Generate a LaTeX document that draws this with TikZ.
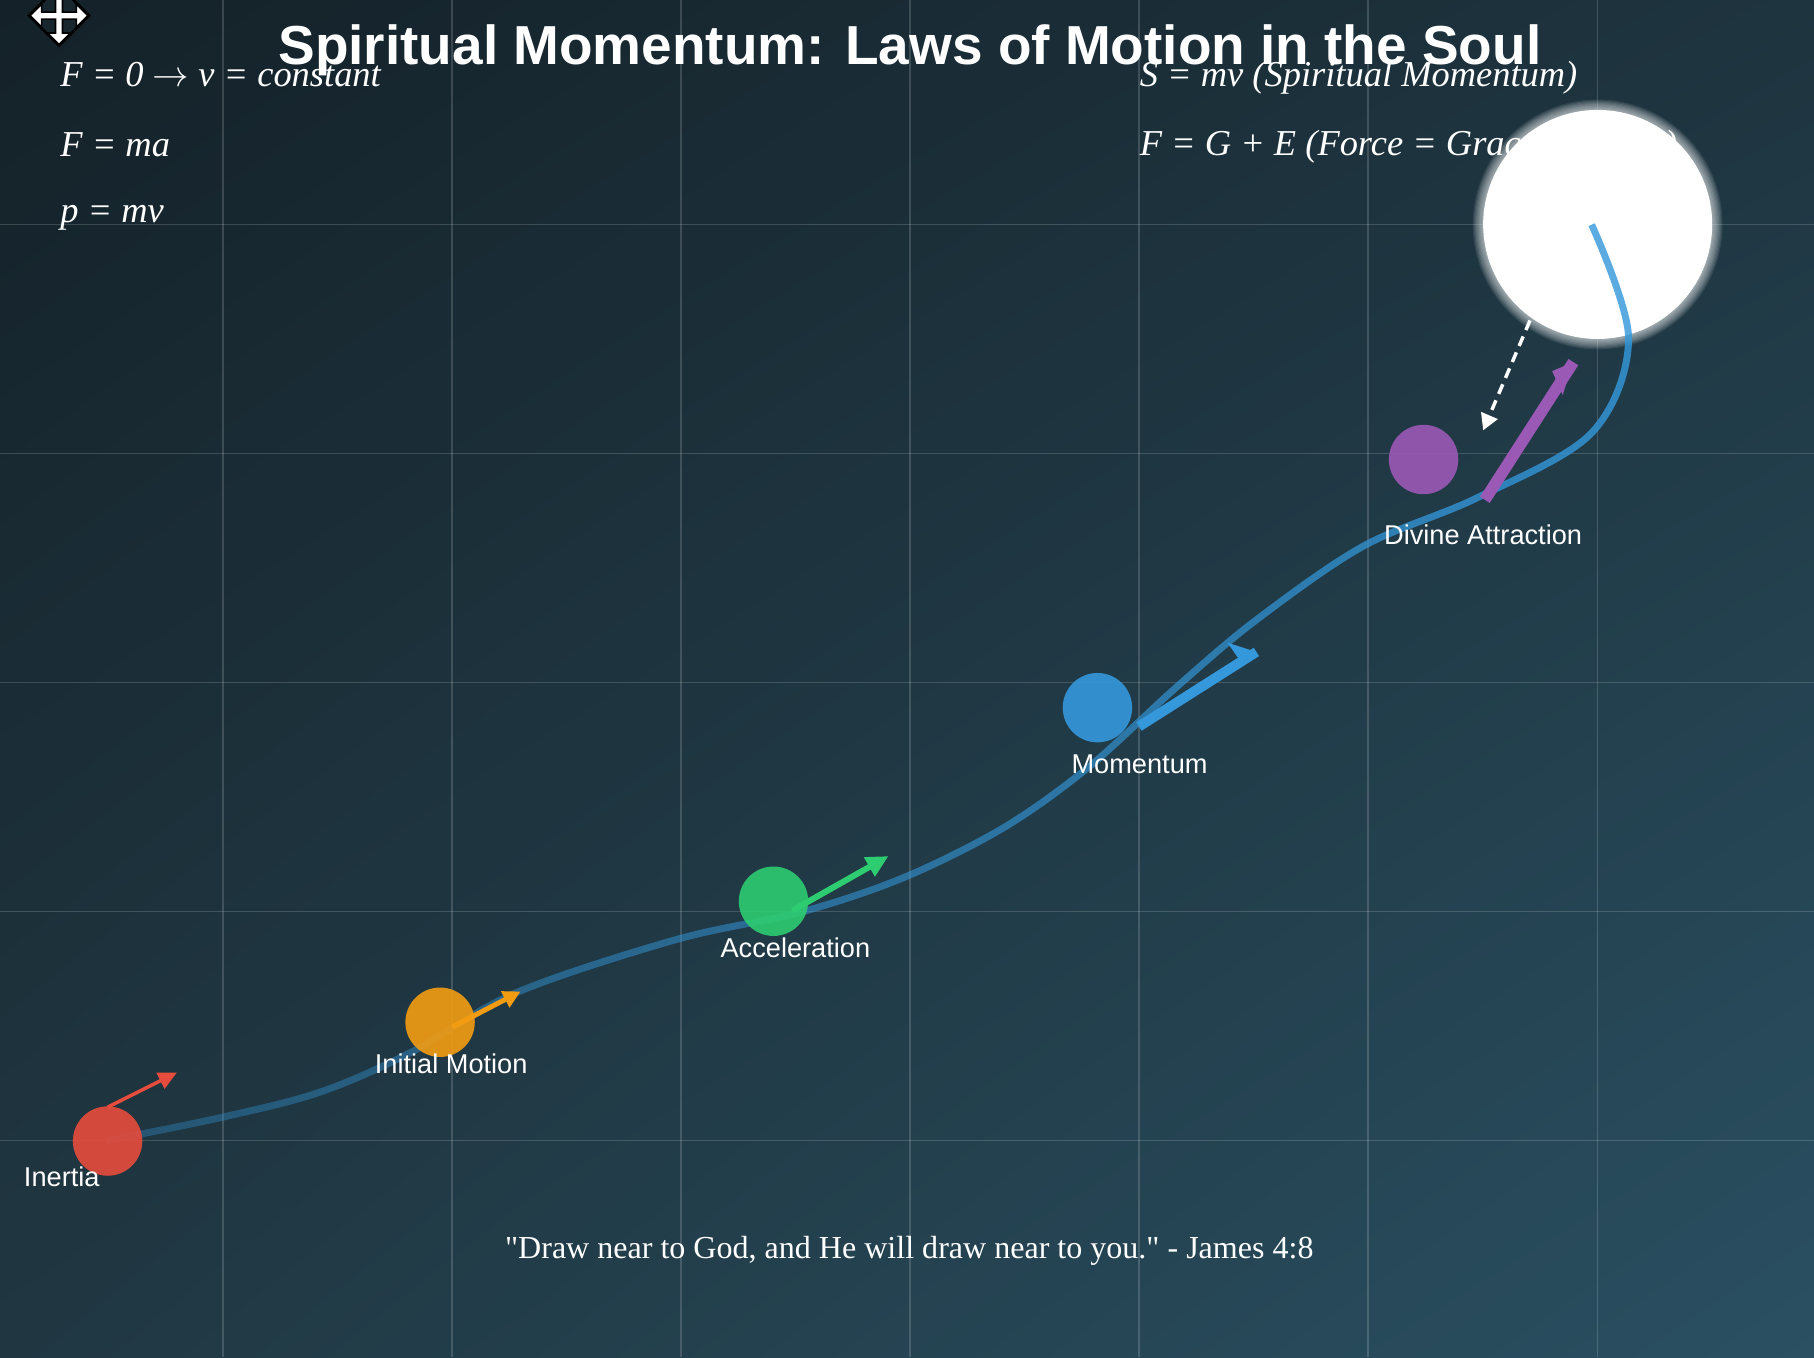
\documentclass[tikz,border=0pt]{standalone}
\usepackage{graphicx}
\usepackage{fontspec}
\setmainfont{Liberation Serif}
\setsansfont{Liberation Sans}
\newfontfamily\qfont{Liberation Serif}
\usetikzlibrary{arrows.meta,fadings,shadings}

\definecolor{bgUL}{RGB}{20,33,40}
\definecolor{bgUR}{RGB}{30,52,63}
\definecolor{bgLL}{RGB}{32,55,66}
\definecolor{bgLR}{RGB}{42,80,98}
\definecolor{cred}{HTML}{E74C3C}
\definecolor{corange}{HTML}{F39C12}
\definecolor{cgreen}{HTML}{2ECC71}
\definecolor{cblue}{HTML}{3498DB}
\definecolor{cpurple}{HTML}{9B59B6}
\definecolor{icondark}{RGB}{24,38,46}

\tikzfading[name=curvefade, left color=transparent!68, right color=transparent!18]

\newcommand{\bigarrow}{{\fontsize{10}{12}\selectfont\scalebox{3.15}{$\rightarrow$}}}

\begin{document}
\begin{tikzpicture}[x=1pt,y=-1pt,
  ball/.style={circle, fill=#1, fill opacity=0.9, minimum size=60pt, inner sep=0pt, draw=none},
  lbl/.style={font=\sffamily\fontsize{23.5}{28}\selectfont, text=white, anchor=base, inner sep=0pt},
  formula/.style={font=\itshape\fontsize{31.5}{36}\selectfont, text=white, anchor=base west, inner sep=0pt},
  gridline/.style={white, opacity=0.16, line width=1.2pt},
  vecline/.style={line cap=butt},
]
\useasboundingbox (0,0) rectangle (1568,1173);
\shade[upper left=bgUL, upper right=bgUR, lower left=bgLL, lower right=bgLR] (0,0) rectangle (1568,1173);

% grid
\foreach \gx in {192.6,390.6,588.6,786.6,984.6,1182.6,1380.6}
  \draw[gridline] (\gx,0) -- (\gx,1173);
\foreach \gy in {194,392,590,788,986}
  \draw[gridline] (0,\gy) -- (1568,\gy);

% formulas
\node[formula] (f1) at (52,75) {F = 0 \bigarrow{} v = constant};
\node[formula] (f2) at (52,135) {F = ma};
\node[formula] (f3) at (52,192) {p = mv};
\node[formula] (f4) at (985,75) {S = mv (Spiritual Momentum)};
\node[formula] (f5) at (985,134) {F = G + E (Force = Grace + Effort)};

% divine light with glow
\foreach \i in {1,...,9}
  \fill[white, opacity=0.085] (1381,194) circle ({99+\i});
\node[circle, fill=white, minimum size=198pt, inner sep=0pt, outer sep=0pt] (light) at (1381,194) {};

\coordinate (pI) at (93,986.3);
\coordinate (pL) at (1381,194);

% trajectory
\draw[cblue, line width=6pt, line cap=butt, path fading=curvefade]
  plot[smooth, tension=0.55] coordinates {(pI) (193,966) (279,944) (357,910) (449,858) (588,812) (697,788) (786,758) (872,715) (945,663) (1021,594) (1090,536) (1183,472) (1282,430) (1381,374) (1413,292) (pL)};

\node[ball=cred] (inertia) at (93,986.3) {};
\node[ball=corange] (initial) at (380.4,883.6) {};
\node[ball=cgreen] (accel) at (668.6,779) {};
\node[ball=cblue] (moment) at (948.6,611.7) {};
\node[ball=cpurple] (divine) at (1230.5,397.2) {};

% vectors
\coordinate (sR) at (93,957);    \coordinate (tR) at (153,927);
\coordinate (sO) at (391,887.7); \coordinate (tO) at (450,857);
\coordinate (sG) at (685,787);   \coordinate (tG) at (768,740);
\coordinate (sB) at (984.5,628); \coordinate (tB) at (1086,563.5);
\coordinate (sP) at (1283.5,432);\coordinate (tP) at (1360,313);
\coordinate (sW) at (1322.5,277);\coordinate (tW) at (1282,372);

\draw[cred, line width=3pt, vecline, -{Triangle[length=16pt,width=15pt]}] (sR) -- (tR);
\draw[corange, line width=4.3pt, vecline, -{Triangle[length=15pt,width=15pt]}] (sO) -- (tO);
\draw[cgreen, line width=5.2pt, vecline, -{Triangle[length=19pt,width=18pt]}] (sG) -- (tG);

\draw[cblue, line width=8.6pt, vecline] (sB) -- (tB);
\fill[cblue] (tB) -- (1061,555.5) -- (1072.5,572.1) -- cycle;

\draw[cpurple, line width=10pt, vecline] (sP) -- (tP);
\fill[cpurple] (tP) -- (1341.7,320.8) -- (1350.7,341.4) -- cycle;

\draw[white, line width=3pt, vecline, dash pattern=on 9pt off 6pt, -{Triangle[length=14pt,width=15pt]}] (sW) -- (tW);

% labels
\node[lbl] (lI) at (53.4,1025.7) {Inertia};
\node[lbl] (lO) at (390,927.7) {Initial Motion};
\node[lbl] (lG) at (687.5,827.8) {Acceleration};
\node[lbl] (lB) at (985,669) {Momentum};
\node[lbl] (lP) at (1282,471) {Divine Attraction};

% title and quote
\node[font=\sffamily\bfseries\fontsize{47.5}{56}\selectfont, text=white, anchor=base, inner sep=0pt] (title) at (786.5,56) {Spiritual Momentum: Laws of Motion in the Soul};
\node[font=\qfont\fontsize{27.7}{32}\selectfont, text=white, anchor=base, inner sep=0pt] (quote) at (786,1088) {"Draw near to God, and He will draw near to you." - James 4:8};

% move icon
\begin{scope}[shift={(51,13.5)}]
\draw[black, fill=icondark, line width=2.2pt, line join=miter]
 (0,-26) -- (26,0) -- (0,26) -- (-26,0) -- cycle;
\draw[black, fill=white, line width=1.4pt, line join=miter]
 (0,-25) -- (10,-15) -- (3,-15) -- (3,-3) -- (15,-3) -- (15,-10) -- (25,0) -- (15,10) -- (15,3) -- (3,3) -- (3,15) -- (10,15) -- (0,25) -- (-10,15) -- (-3,15) -- (-3,3) -- (-15,3) -- (-15,10) -- (-25,0) -- (-15,-10) -- (-15,-3) -- (-3,-3) -- (-3,-15) -- (-10,-15) -- cycle;
\end{scope}
\end{tikzpicture}
\end{document}
